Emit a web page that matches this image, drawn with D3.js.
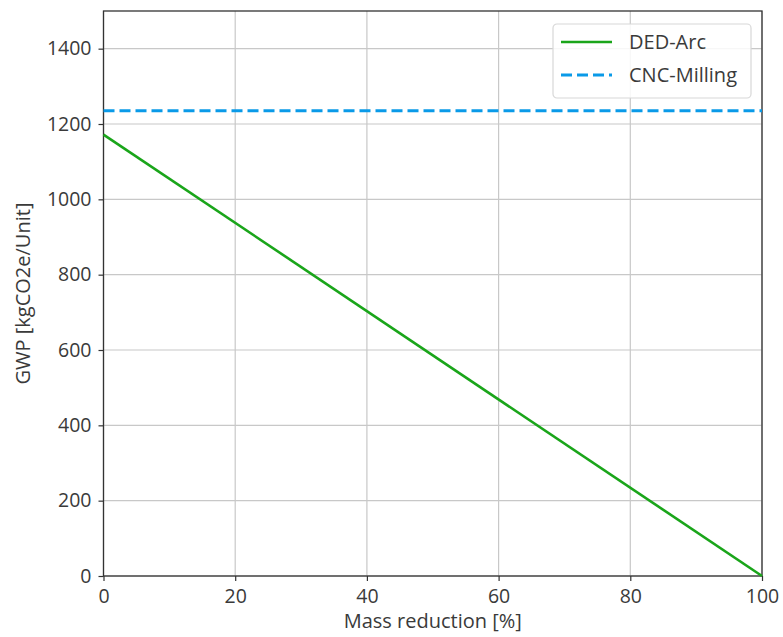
<!DOCTYPE html>
<html>
<head>
<meta charset="utf-8">
<script src="https://cdn.jsdelivr.net/npm/d3@7"></script>
<style>
  body { margin: 0; background: #fff; }
  svg text { font-family: "Open Sans", "Noto Sans", sans-serif; fill: #3a3a3a; }
</style>
</head>
<body>
<div id="wrapper"></div>
<script>
// data
const massReduction = [0, 100]
const dedArc = [1172, 0]
const cncMilling = 1235
const xTicks = [0, 20, 40, 60, 80, 100]
const yTicks = [0, 200, 400, 600, 800, 1000, 1200, 1400]
const seriesNames = ["DED-Arc", "CNC-Milling"]

function drawChart() {
  let dimensions = {
    width: 783,
    height: 637,
    margin: { top: 11, right: 21, bottom: 61, left: 103.5 },
  }
  dimensions.boundedWidth = dimensions.width - dimensions.margin.left - dimensions.margin.right
  dimensions.boundedHeight = dimensions.height - dimensions.margin.top - dimensions.margin.bottom

  const svg = d3.select("#wrapper").append("svg")
    .attr("width", dimensions.width)
    .attr("height", dimensions.height)

  const bounds = svg.append("g")
    .attr("transform", `translate(${dimensions.margin.left},${dimensions.margin.top})`)

  const xScale = d3.scaleLinear().domain([0, 100]).range([0, dimensions.boundedWidth])
  const yScale = d3.scaleLinear().domain([0, 1500]).range([dimensions.boundedHeight, 0])

  // grid
  bounds.append("g").selectAll("line").data(xTicks).join("line")
    .attr("x1", d => xScale(d)).attr("x2", d => xScale(d))
    .attr("y1", 0).attr("y2", dimensions.boundedHeight)
    .attr("stroke", "#c8c8c8").attr("stroke-width", 1.2)
  bounds.append("g").selectAll("line").data(yTicks).join("line")
    .attr("x1", 0).attr("x2", dimensions.boundedWidth)
    .attr("y1", d => yScale(d)).attr("y2", d => yScale(d))
    .attr("stroke", "#c8c8c8").attr("stroke-width", 1.2)

  // axes
  const xAxis = bounds.append("g")
    .attr("transform", `translate(0,${dimensions.boundedHeight})`)
    .call(d3.axisBottom(xScale).tickValues(xTicks).tickFormat(d3.format("d")).tickSize(5).tickPadding(8))
  const yAxis = bounds.append("g")
    .call(d3.axisLeft(yScale).tickValues(yTicks).tickFormat(d3.format("d")).tickSize(5).tickPadding(7))
  ;[xAxis, yAxis].forEach(a => {
    a.select(".domain").remove()
    a.selectAll(".tick line").attr("stroke", "#333").attr("stroke-width", 1.2)
    a.selectAll(".tick text").attr("font-size", 19.5).attr("fill", "#3a3a3a")
      .attr("font-family", "'Open Sans', sans-serif")
  })

  // frame
  bounds.append("rect")
    .attr("width", dimensions.boundedWidth).attr("height", dimensions.boundedHeight)
    .attr("fill", "none").attr("stroke", "#333").attr("stroke-width", 1.3)

  // series
  const line = d3.line().x(d => xScale(d[0])).y(d => yScale(d[1]))
  bounds.append("path")
    .datum(massReduction.map((m, i) => [m, dedArc[i]]))
    .attr("d", line)
    .attr("fill", "none").attr("stroke", "#1aa51a").attr("stroke-width", 2.6)
  bounds.append("path")
    .datum([[0, cncMilling], [100, cncMilling]])
    .attr("d", line)
    .attr("fill", "none").attr("stroke", "#0a9ae8").attr("stroke-width", 3)
    .attr("stroke-dasharray", "11,5")

  // labels
  svg.append("text")
    .attr("x", dimensions.margin.left + dimensions.boundedWidth / 2)
    .attr("y", 628).attr("text-anchor", "middle").attr("font-size", 20)
    .text("Mass reduction [%]")
  svg.append("text")
    .attr("transform", `translate(30,${dimensions.margin.top + dimensions.boundedHeight / 2}) rotate(-90)`)
    .attr("text-anchor", "middle").attr("font-size", 20)
    .text("GWP [kgCO2e/Unit]")

  // legend
  const legend = svg.append("g").attr("transform", "translate(553,24)")
  legend.append("rect")
    .attr("width", 198).attr("height", 74).attr("rx", 4)
    .attr("fill", "rgba(255,255,255,0.85)").attr("stroke", "#d8d8d8").attr("stroke-width", 1.2)
  const items = legend.selectAll("g.item").data(seriesNames).join("g")
    .attr("transform", (d, i) => `translate(0,${18 + i * 33})`)
  items.append("line")
    .attr("x1", 8).attr("x2", 59).attr("y1", 0).attr("y2", 0)
    .attr("stroke", (d, i) => i === 0 ? "#1aa51a" : "#0a9ae8")
    .attr("stroke-width", (d, i) => i === 0 ? 2.6 : 3)
    .attr("stroke-dasharray", (d, i) => i === 0 ? null : "11,5")
  items.append("text")
    .attr("x", 76).attr("y", 0).attr("dy", "0.35em").attr("font-size", 20)
    .text(d => d)
}

drawChart()
</script>
</body>
</html>
